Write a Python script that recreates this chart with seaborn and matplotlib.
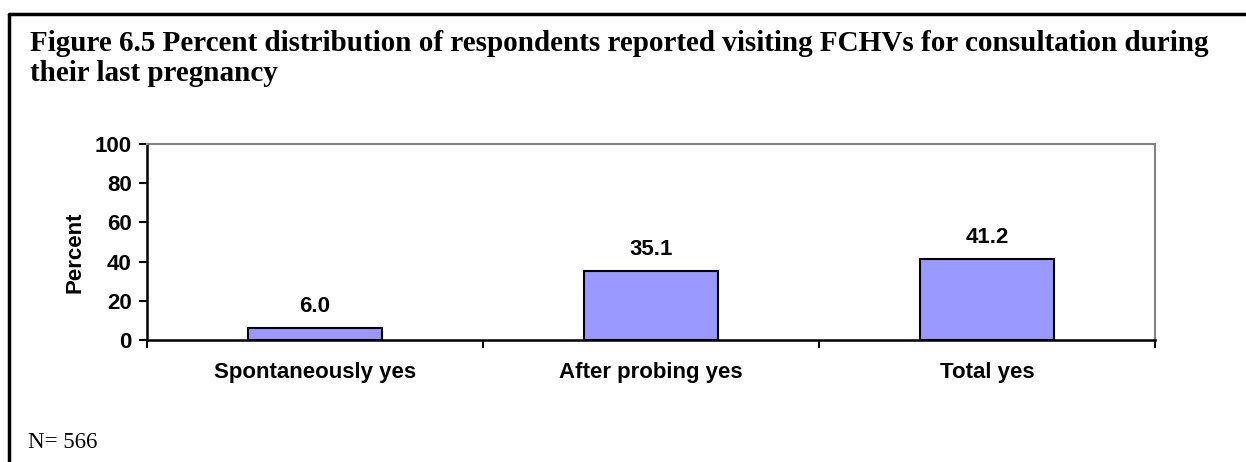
import numpy as np
import pandas as pd
import matplotlib
matplotlib.use("Agg")
import matplotlib.pyplot as plt
from matplotlib.lines import Line2D
import seaborn as sns

# ---------------------------------------------------------
# Data
# ---------------------------------------------------------
categories = ["Spontaneously yes", "After probing yes", "Total yes"]
percent = [6.0, 35.1, 41.2]
y_ticks = [0, 20, 40, 60, 80, 100]

title = ("Figure 6.5 Percent distribution of respondents reported visiting FCHVs for consultation during\n"
         "their last pregnancy")
note = "N= 566"

df = pd.DataFrame({"category": categories, "percent": percent})

# ---------------------------------------------------------
# Figure
# ---------------------------------------------------------
sns.set_style("white")
plt.rcParams["font.family"] = ["Liberation Sans", "DejaVu Sans"]
plt.rcParams["text.color"] = "black"
plt.rcParams["xtick.color"] = "black"
plt.rcParams["ytick.color"] = "black"
plt.rcParams["axes.labelcolor"] = "black"

fig = plt.figure(figsize=(12.46, 4.62), dpi=100)
ax = fig.add_axes([147 / 1246, 1 - 340 / 462, (1155 - 147) / 1246, (340 - 144) / 462])

sns.barplot(data=df, x="category", y="percent", color="#9999FF",
            edgecolor="black", linewidth=1.5, width=0.4, saturation=1, ax=ax)

fs = 16
ax.set_xlim(-0.5, 2.5)
ax.set_ylim(0, 100)
ax.set_yticks(y_ticks)
ax.set_yticklabels([str(t) for t in y_ticks], fontweight="bold", fontsize=fs)
ax.set_xticks(range(len(categories)))
ax.set_xticklabels(categories, fontweight="bold", fontsize=fs)
ax.set_xticks(np.arange(-0.5, len(categories), 1.0), minor=True)
ax.tick_params(axis="x", which="major", length=0, pad=16, bottom=True)
ax.tick_params(axis="x", which="minor", length=6, width=1.5, color="black",
               direction="out", bottom=True)
ax.tick_params(axis="y", length=6, width=1.5, color="black", direction="out",
               pad=5, left=True)
ax.set_xlabel("")
ax.set_ylabel("Percent", fontweight="bold", fontsize=fs)
ax.yaxis.set_label_coords(-0.0615, 0.45)

for side in ["left", "bottom"]:
    ax.spines[side].set_color("black")
    ax.spines[side].set_linewidth(1.8)
for side in ["top", "right"]:
    ax.spines[side].set_visible(True)
    ax.spines[side].set_color("#808080")
    ax.spines[side].set_linewidth(1.5)

for i, v in enumerate(percent):
    ax.annotate(f"{v:.1f}", xy=(i, v), xytext=(0, 12), textcoords="offset points",
                ha="center", va="baseline", fontweight="bold", fontsize=fs)

fig.text(30 / 1246, 1 - 30 / 462, title, ha="left", va="top",
         family=["Liberation Serif", "DejaVu Serif"], fontweight="bold", fontsize=21,
         linespacing=1.15)
fig.text(28 / 1246, 1 - 443 / 462, note, ha="left", va="center",
         family=["Liberation Serif", "DejaVu Serif"], fontsize=16.5)

# outer frame (top and left)
fig.add_artist(Line2D([9 / 1246, 9 / 1246], [0, 1 - 14 / 462], color="black", lw=2.5,
                      transform=fig.transFigure))
fig.add_artist(Line2D([9 / 1246, 1], [1 - 14 / 462, 1 - 14 / 462], color="black", lw=2.5,
                      transform=fig.transFigure))

fig.savefig("out.png", dpi=100)
